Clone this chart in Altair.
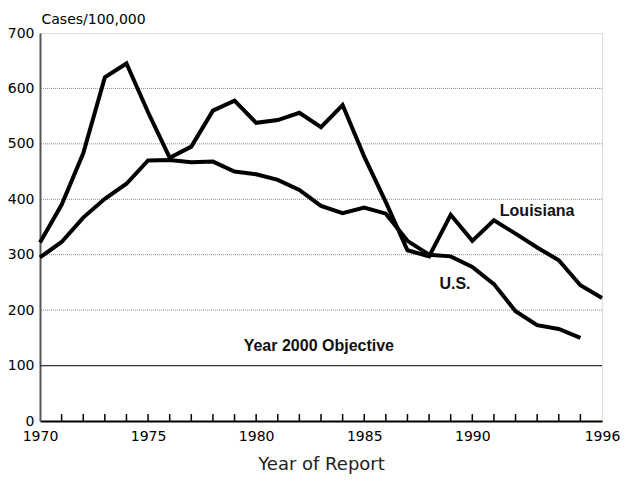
import altair as alt
import pandas as pd

# ---- data ----
years_la = list(range(1970, 1997))
louisiana = [322, 390, 483, 620, 645, 557, 475, 495, 560, 578, 538, 543, 556, 530, 570,
             477, 395, 308, 297, 372, 325, 362, 338, 313, 290, 245, 222]
years_us = list(range(1970, 1996))
us = [295, 323, 367, 401, 428, 470, 471, 467, 468, 450, 445, 435, 417, 388, 375,
      385, 374, 325, 300, 297, 278, 247, 198, 173, 166, 150]

grid_values = [200, 300, 400, 500, 600]
objective_value = [100]
tick_years = list(range(1971, 1996))
label_years = [1970, 1975, 1980, 1985, 1990, 1996]
y_tick_values = [0, 100, 200, 300, 400, 500, 600, 700]

ann_text = ["Louisiana", "U.S.", "Year 2000 Objective"]
ann_x = [1993.0, 1989.2, 1982.9]
ann_y = [378, 248, 136]

# ---- tables ----
lines_df = pd.concat([
    pd.DataFrame({"year": years_la, "rate": louisiana, "series": "Louisiana"}),
    pd.DataFrame({"year": years_us, "rate": us, "series": "U.S."}),
])
grid_df = pd.DataFrame({"v": grid_values})
obj_df = pd.DataFrame({"v": objective_value})
ticks_df = pd.DataFrame({"year": tick_years, "y0": 0, "y1": 12.5})
ann_df = pd.DataFrame({"text": ann_text, "x": ann_x, "y": ann_y})

x_scale = alt.Scale(domain=[1970, 1996], nice=False, zero=False)
y_scale = alt.Scale(domain=[0, 700], nice=False)

FONT = "DejaVu Sans"

x_axis = alt.Axis(
    values=label_years, format="d", title="Year of Report", ticks=False, grid=False,
    domainColor="black", domainWidth=2, labelFont=FONT, labelFontSize=14,
    labelColor="black", labelPadding=8, labelFlush=False, labelOverlap=False,
    titleFont=FONT, titleFontSize=18, titleFontWeight="normal", titleColor="#222",
    titlePadding=12,
)
y_axis = alt.Axis(
    values=y_tick_values, title="Cases/100,000", ticks=False, grid=False,
    domainColor="#555", domainWidth=2, labelFont=FONT, labelFontSize=14,
    labelColor="black", labelPadding=6, labelFlush=False, labelOverlap=False,
    titleFont=FONT, titleFontSize=14, titleFontWeight="normal", titleColor="black",
    titleAngle=0, titleAlign="left", titleBaseline="alphabetic", titleX=1, titleY=-10,
)

grid = alt.Chart(grid_df).mark_rule(color="#888", strokeWidth=1, strokeDash=[1, 1]).encode(
    y=alt.Y("v:Q", scale=y_scale)
)
obj = alt.Chart(obj_df).mark_rule(color="#333", strokeWidth=1.2).encode(
    y=alt.Y("v:Q", scale=y_scale)
)
ticks = alt.Chart(ticks_df).mark_rule(color="black", strokeWidth=1.5).encode(
    x=alt.X("year:Q", scale=x_scale),
    y=alt.Y("y0:Q", scale=y_scale),
    y2="y1:Q",
)
lines = alt.Chart(lines_df).mark_line(strokeWidth=4, strokeJoin="miter").encode(
    x=alt.X("year:Q", scale=x_scale, axis=x_axis),
    y=alt.Y("rate:Q", scale=y_scale, axis=y_axis),
    color=alt.Color("series:N", scale=alt.Scale(range=["black", "black"]), legend=None),
)
ann = alt.Chart(ann_df).mark_text(
    font="Liberation Sans", fontSize=16, fontWeight="bold", color="#111",
    align="center", baseline="middle",
).encode(
    x=alt.X("x:Q", scale=x_scale),
    y=alt.Y("y:Q", scale=y_scale),
    text="text:N",
)

chart = alt.layer(grid, obj, ticks, lines, ann).properties(
    width=562, height=388,
    autosize=alt.AutoSizeParams(type="none"),
    padding={"left": 32, "top": 25, "right": 20, "bottom": 56},
).configure_view(stroke="#222", strokeWidth=1.5).configure(background="white")

chart.save("out.html", embed_options={"renderer": "svg", "actions": False})
